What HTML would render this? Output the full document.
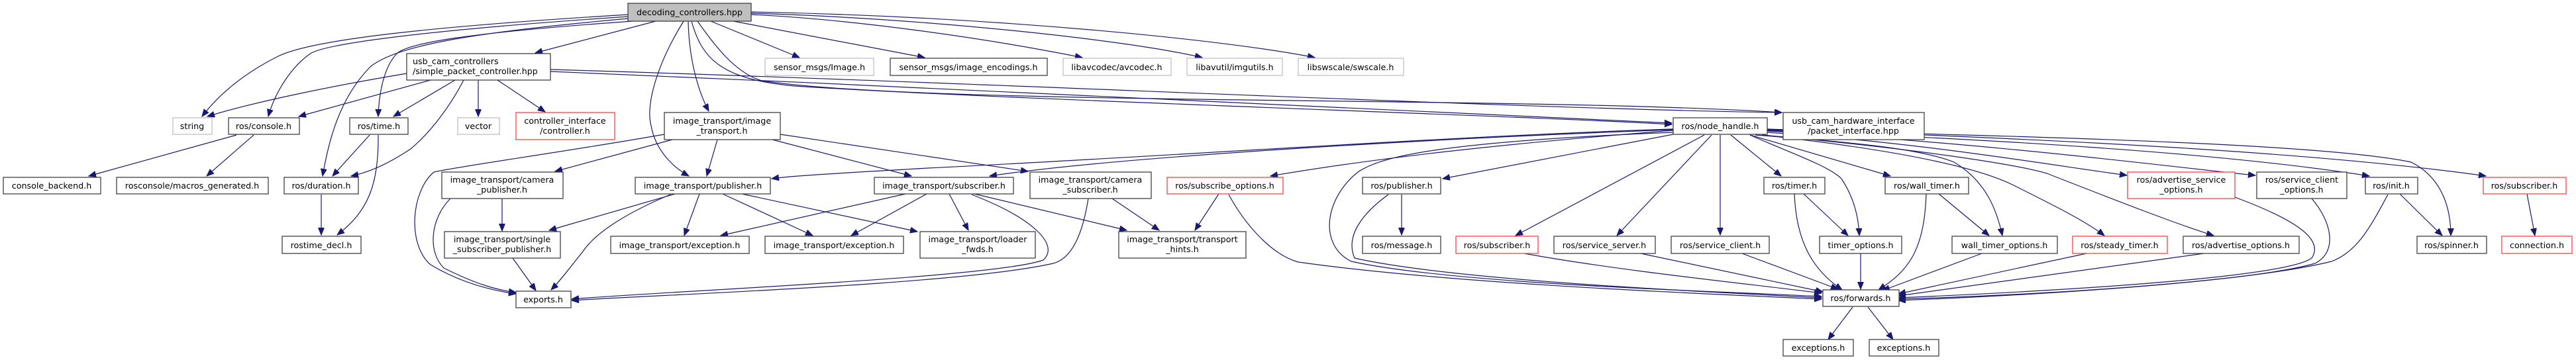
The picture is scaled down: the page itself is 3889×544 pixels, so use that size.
<!DOCTYPE html>
<html><head><meta charset="utf-8"><style>
html,body{margin:0;padding:0;background:#fff;}
svg{display:block;}
text{font-family:"DejaVu Sans","Liberation Sans",sans-serif;font-size:12.7px;fill:#000;text-anchor:middle;}
.b{fill:#fff;stroke:#404040;stroke-width:1.3;}
.g{fill:#fff;stroke:#bfbfbf;stroke-width:1.3;}
.r{fill:#fff;stroke:#ff4040;stroke-width:1.3;}
.e{fill:none;stroke:#191970;stroke-width:1.2;marker-end:url(#a);}
</style></head><body>
<svg width="3889" height="544" viewBox="0 0 3889 544" xmlns="http://www.w3.org/2000/svg">
<defs><marker id="a" markerUnits="userSpaceOnUse" markerWidth="12" markerHeight="10" refX="11" refY="4.5" orient="auto"><path d="M0,0 L11,4.5 L0,9 z" fill="#191970" stroke="#191970"/></marker></defs>

<!-- edges -->
<g>
<path class="e" d="M949,22 C650,40 470,60 420,85 C360,115 325,150 305,176"/>
<path class="e" d="M949,25 C650,45 500,65 470,80 C440,100 415,140 405,176"/>
<path class="e" d="M949,28 C700,50 600,70 560,100 C510,150 495,220 487,266"/>
<path class="e" d="M955,32 C700,50 620,65 600,80 C580,100 572,140 571,176"/>
<path class="e" d="M990,32 L808,80"/>
<path class="e" d="M1032,32 C990,100 975,160 983,190 C990,230 1020,255 1040,266"/>
<path class="e" d="M1039,32 C1040,80 1050,130 1070,168"/>
<path class="e" d="M1044,32 C1060,90 1090,120 1200,130 C1500,150 2300,175 2524,188"/>
<path class="e" d="M1053,32 C1080,70 1110,110 1150,122 C1400,160 2300,145 2690,170"/>
<path class="e" d="M1073,32 L1207,87"/>
<path class="e" d="M1107,32 L1396,87"/>
<path class="e" d="M1134,22 C1300,30 1500,60 1634,87"/>
<path class="e" d="M1134,20 C1400,28 1700,60 1815,87"/>
<path class="e" d="M1134,18 C1500,25 1850,60 1985,87"/>

<path class="e" d="M614,111 C500,130 380,155 313,176"/>
<path class="e" d="M650,121 L451,176"/>
<path class="e" d="M687,121 L594,176"/>
<path class="e" d="M700,121 C680,160 650,200 620,225 C590,245 560,260 530,266"/>
<path class="e" d="M722,121 L722,176"/>
<path class="e" d="M751,121 L823,169"/>
<path class="e" d="M831,108 C1500,135 2300,180 2524,186"/>
<path class="e" d="M831,105 C1500,125 2300,165 2690,170"/>

<path class="e" d="M357,204 L134,266"/>
<path class="e" d="M383,204 L312,266"/>
<path class="e" d="M558,204 L502,266"/>
<path class="e" d="M571,204 C572,280 555,320 509,355"/>
<path class="e" d="M485,294 L485,355"/>

<path class="e" d="M1015,211 L838,259"/>
<path class="e" d="M1083,211 L1067,266"/>
<path class="e" d="M1003,203 C850,230 700,250 655,260 C620,290 615,370 650,400 C700,430 750,440 779,444"/>
<path class="e" d="M680,300 C650,330 645,380 670,405 C720,430 750,438 779,442"/>
<path class="e" d="M1166,211 L1376,266"/>
<path class="e" d="M1178,203 L1552,259"/>
<path class="e" d="M758,300 L758,349"/>
<path class="e" d="M1019,293 L829,348"/>
<path class="e" d="M1012,294 C950,320 900,350 880,380 C860,405 845,425 832,438"/>
<path class="e" d="M1056,293 L1033,356"/>
<path class="e" d="M1091,293 L1227,356"/>
<path class="e" d="M1120,293 L1385,350"/>
<path class="e" d="M774,390 L809,439"/>
<path class="e" d="M1367,293 L1088,356"/>
<path class="e" d="M1399,293 L1285,356"/>
<path class="e" d="M1433,293 L1462,348"/>
<path class="e" d="M1471,293 L1701,348"/>
<path class="e" d="M1467,294 C1560,330 1600,370 1575,393 C1500,420 1000,440 863,452"/>
<path class="e" d="M1679,300 L1750,348"/>
<path class="e" d="M1643,300 C1635,350 1620,390 1590,398 C1450,430 1000,445 863,454"/>

<path class="e" d="M2526,195 C2200,205 1700,240 1400,254 C1300,260 1200,265 1165,270"/>
<path class="e" d="M2526,196 C2200,208 1700,235 1494,266"/>
<path class="e" d="M2526,197 C2300,215 2100,235 1918,266"/>
<path class="e" d="M2526,203 L2178,270"/>
<path class="e" d="M2526,200 C2150,215 2080,240 2050,260 C2000,300 1990,370 2040,395 C2200,430 2600,440 2750,448"/>
<path class="e" d="M2096,294 C2060,320 2030,355 2045,390 C2200,425 2600,442 2750,450"/>
<path class="e" d="M1855,294 C1880,340 1920,385 1960,396 C2200,430 2600,445 2750,452"/>
<path class="e" d="M1840,293 L1804,348"/>
<path class="e" d="M2116,294 L2116,355"/>
<path class="e" d="M2573,204 L2288,356"/>
<path class="e" d="M2584,204 L2441,356"/>
<path class="e" d="M2597,204 L2597,355"/>
<path class="e" d="M2613,204 L2689,266"/>
<path class="e" d="M2301,383 C2450,410 2650,430 2750,443"/>
<path class="e" d="M2477,383 L2752,441"/>
<path class="e" d="M2630,383 L2775,437"/>
<path class="e" d="M2709,293 C2712,370 2740,410 2781,438"/>
<path class="e" d="M2723,293 L2790,356"/>
<path class="e" d="M2809,383 L2809,437"/>
<path class="e" d="M2642,204 C2700,230 2760,250 2780,270 C2800,300 2806,330 2807,356"/>
<path class="e" d="M2642,204 L2854,266"/>
<path class="e" d="M2908,293 C2905,380 2880,410 2836,438"/>
<path class="e" d="M2927,293 L3003,356"/>
<path class="e" d="M2650,204 C2800,215 2900,225 2950,245 C3000,275 3015,320 3023,356"/>
<path class="e" d="M2992,383 L2842,439"/>
<path class="e" d="M2660,204 C2850,225 2980,250 3040,280 C3100,310 3150,335 3177,356"/>
<path class="e" d="M3150,383 L2866,444"/>
<path class="e" d="M2660,204 C2900,225 3050,250 3090,262 C3200,305 3290,340 3342,356"/>
<path class="e" d="M3327,383 L2866,447"/>
<path class="e" d="M2668,200 C2900,215 3100,250 3211,265"/>
<path class="e" d="M2668,198 C3000,215 3300,255 3405,265"/>
<path class="e" d="M3374,298 C3460,330 3510,360 3490,390 C3450,420 3100,440 2866,450"/>
<path class="e" d="M3490,300 C3520,335 3530,380 3495,398 C3400,425 3100,445 2866,452"/>
<path class="e" d="M2668,197 C3000,210 3350,230 3577,266"/>
<path class="e" d="M3623,293 L3687,356"/>
<path class="e" d="M3605,294 C3580,340 3560,380 3520,395 C3400,425 3100,445 2866,454"/>
<path class="e" d="M2668,196 C3000,205 3500,215 3640,245 C3690,270 3700,320 3700,356"/>
<path class="e" d="M2668,195 C3100,210 3500,230 3753,266"/>
<path class="e" d="M3815,293 L3827,356"/>
<path class="e" d="M2797,464 L2760,513"/>
<path class="e" d="M2820,464 L2858,513"/>
</g>

<!-- nodes -->
<rect x="948" y="5" width="186" height="27" fill="#bfbfbf" stroke="#404040" stroke-width="1.3"/><text x="1041" y="23">decoding_controllers.hpp</text>

<rect class="b" x="614" y="81" width="217" height="40"/><text x="623" y="97" style="text-anchor:start">usb_cam_controllers</text><text x="623" y="112" style="text-anchor:start">/simple_packet_controller.hpp</text>

<rect class="g" x="1155" y="88" width="164" height="26"/><text x="1237" y="106">sensor_msgs/Image.h</text>
<rect class="b" x="1344" y="88" width="237" height="26"/><text x="1462" y="106">sensor_msgs/image_encodings.h</text>
<rect class="g" x="1605" y="88" width="163" height="26"/><text x="1686" y="106">libavcodec/avcodec.h</text>
<rect class="g" x="1792" y="88" width="144" height="26"/><text x="1864" y="106">libavutil/imgutils.h</text>
<rect class="g" x="1960" y="88" width="159" height="26"/><text x="2039" y="106">libswscale/swscale.h</text>

<rect class="g" x="261" y="178" width="59" height="25"/><text x="290" y="195">string</text>
<rect class="b" x="345" y="178" width="107" height="25"/><text x="398" y="195">ros/console.h</text>
<rect class="b" x="528" y="178" width="88" height="25"/><text x="572" y="195">ros/time.h</text>
<rect class="g" x="691" y="178" width="63" height="25"/><text x="722" y="195">vector</text>
<rect class="r" x="779" y="170" width="149" height="41"/><text x="853" y="187">controller_interface</text><text x="853" y="202">/controller.h</text>
<rect class="b" x="1003" y="170" width="175" height="41"/><text x="1090" y="187">image_transport/image</text><text x="1090" y="202">_transport.h</text>
<rect class="b" x="2526" y="178" width="142" height="25"/><text x="2597" y="195">ros/node_handle.h</text>
<rect class="b" x="2692" y="170" width="213" height="41"/><text x="2798" y="187">usb_cam_hardware_interface</text><text x="2798" y="202">/packet_interface.hpp</text>

<rect class="b" x="5" y="268" width="147" height="25"/><text x="78" y="285">console_backend.h</text>
<rect class="b" x="176" y="268" width="229" height="25"/><text x="290" y="285">rosconsole/macros_generated.h</text>
<rect class="b" x="429" y="268" width="112" height="25"/><text x="485" y="285">ros/duration.h</text>
<rect class="b" x="667" y="260" width="183" height="40"/><text x="758" y="276">image_transport/camera</text><text x="758" y="291">_publisher.h</text>
<rect class="b" x="959" y="268" width="204" height="25"/><text x="1061" y="285">image_transport/publisher.h</text>
<rect class="b" x="1320" y="268" width="210" height="25"/><text x="1425" y="285">image_transport/subscriber.h</text>
<rect class="b" x="1555" y="260" width="183" height="40"/><text x="1646" y="276">image_transport/camera</text><text x="1646" y="291">_subscriber.h</text>
<rect class="r" x="1762" y="268" width="175" height="25"/><text x="1849" y="285">ros/subscribe_options.h</text>
<rect class="b" x="2057" y="268" width="118" height="25"/><text x="2116" y="285">ros/publisher.h</text>
<rect class="b" x="2663" y="268" width="92" height="25"/><text x="2709" y="285">ros/timer.h</text>
<rect class="b" x="2846" y="268" width="126" height="25"/><text x="2909" y="285">ros/wall_timer.h</text>
<rect class="r" x="3212" y="260" width="162" height="40"/><text x="3293" y="276">ros/advertise_service</text><text x="3293" y="291">_options.h</text>
<rect class="b" x="3407" y="260" width="136" height="40"/><text x="3475" y="276">ros/service_client</text><text x="3475" y="291">_options.h</text>
<rect class="b" x="3571" y="268" width="79" height="25"/><text x="3610" y="285">ros/init.h</text>
<rect class="r" x="3749" y="268" width="125" height="25"/><text x="3811" y="285">ros/subscriber.h</text>

<rect class="b" x="426" y="357" width="119" height="26"/><text x="485" y="375">rostime_decl.h</text>
<rect class="b" x="671" y="350" width="175" height="40"/><text x="758" y="366">image_transport/single</text><text x="758" y="381">_subscriber_publisher.h</text>
<rect class="b" x="922" y="357" width="209" height="26"/><text x="1026" y="375">image_transport/exception.h</text>
<rect class="b" x="1155" y="357" width="209" height="26"/><text x="1259" y="375">image_transport/exception.h</text>
<rect class="b" x="1389" y="350" width="174" height="40"/><text x="1476" y="366">image_transport/loader</text><text x="1476" y="381">_fwds.h</text>
<rect class="b" x="1689" y="350" width="192" height="40"/><text x="1785" y="366">image_transport/transport</text><text x="1785" y="381">_hints.h</text>
<rect class="b" x="2057" y="357" width="118" height="26"/><text x="2116" y="375">ros/message.h</text>
<rect class="r" x="2198" y="357" width="124" height="26"/><text x="2260" y="375">ros/subscriber.h</text>
<rect class="b" x="2346" y="357" width="153" height="26"/><text x="2422" y="375">ros/service_server.h</text>
<rect class="b" x="2523" y="357" width="148" height="26"/><text x="2597" y="375">ros/service_client.h</text>
<rect class="b" x="2747" y="357" width="124" height="26"/><text x="2809" y="375">timer_options.h</text>
<rect class="b" x="2947" y="357" width="159" height="26"/><text x="3026" y="375">wall_timer_options.h</text>
<rect class="r" x="3129" y="357" width="143" height="26"/><text x="3200" y="375">ros/steady_timer.h</text>
<rect class="b" x="3296" y="357" width="175" height="26"/><text x="3383" y="375">ros/advertise_options.h</text>
<rect class="b" x="3649" y="357" width="105" height="26"/><text x="3701" y="375">ros/spinner.h</text>
<rect class="r" x="3777" y="357" width="106" height="26"/><text x="3830" y="375">connection.h</text>

<rect class="b" x="779" y="440" width="83" height="25"/><text x="820" y="457">exports.h</text>
<rect class="b" x="2752" y="438" width="115" height="25"/><text x="2809" y="455">ros/forwards.h</text>
<rect class="b" x="2692" y="513" width="106" height="25"/><text x="2745" y="530">exceptions.h</text>
<rect class="b" x="2822" y="513" width="105" height="25"/><text x="2874" y="530">exceptions.h</text>
</svg>
</body></html>
